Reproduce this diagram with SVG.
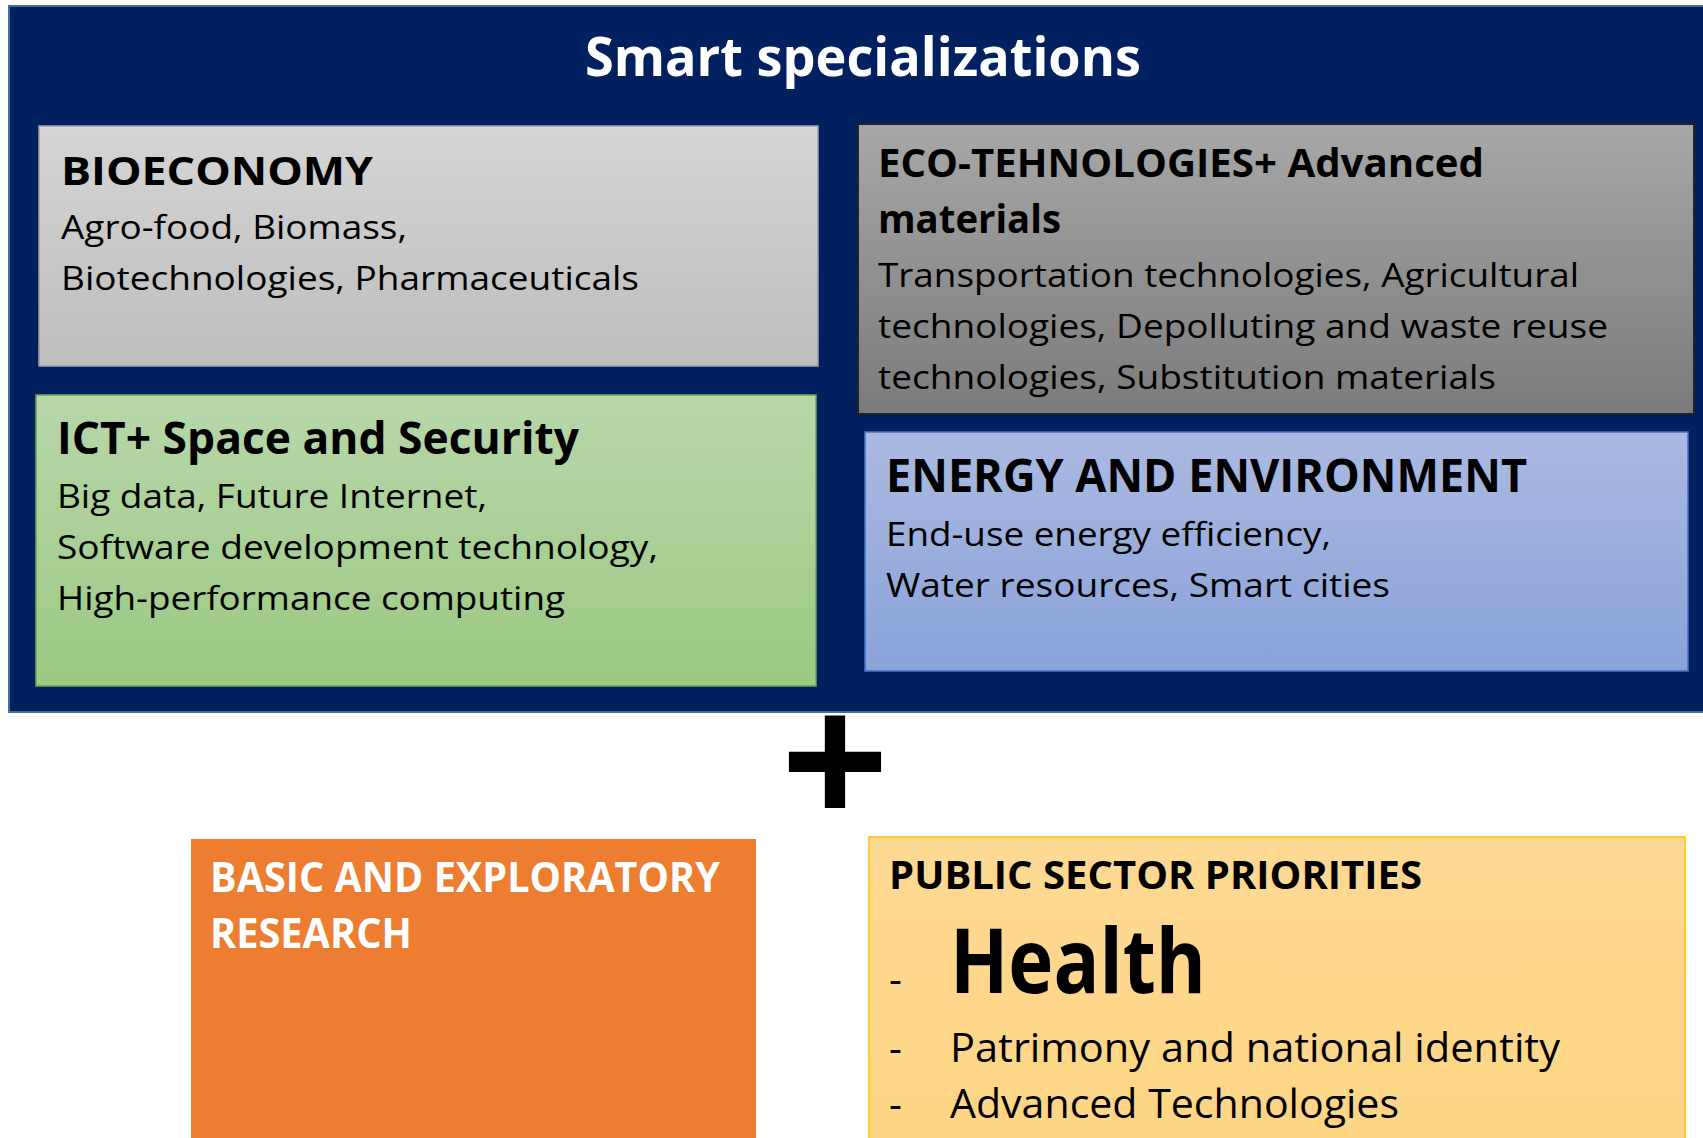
<svg xmlns="http://www.w3.org/2000/svg" width="1703" height="1138" viewBox="0 0 1703 1138">
  <defs>
    <linearGradient id="gBio" x1="0" y1="0" x2="0" y2="1"><stop offset="0" stop-color="#d5d5d5"/><stop offset="1" stop-color="#bdbdbd"/></linearGradient>
    <linearGradient id="gEco" x1="0" y1="0" x2="0" y2="1"><stop offset="0" stop-color="#a7a7a7"/><stop offset="1" stop-color="#7b7b7b"/></linearGradient>
    <linearGradient id="gIct" x1="0" y1="0" x2="0" y2="1"><stop offset="0" stop-color="#b7d7a9"/><stop offset="1" stop-color="#9cc983"/></linearGradient>
    <linearGradient id="gEn" x1="0" y1="0" x2="0" y2="1"><stop offset="0" stop-color="#abbae1"/><stop offset="1" stop-color="#89a2d8"/></linearGradient>
    <linearGradient id="gPub" x1="0" y1="0" x2="0" y2="1"><stop offset="0" stop-color="#fed994"/><stop offset="1" stop-color="#fed584"/></linearGradient>
  </defs>
  <style>
    text { font-family: "Open Sans", "Noto Sans", "DejaVu Sans", sans-serif; fill: #000; }
    .b { font-weight: bold; }
    .w { fill: #ffffff; }
    .h39 { font-size: 39px; }
    .h45 { font-size: 45px; }
    .h46 { font-size: 46px; }
    .body { font-size: 33px; }
    .pub { font-size: 40px; }
  </style>
  <rect width="1703" height="1138" fill="#ffffff"/>

  <g id="smart-specializations">
    <rect x="9" y="6" width="1700" height="706" fill="#002060" stroke="#41719c" stroke-width="2"/>
    <text x="585" y="76" class="b w" font-size="53" textLength="556" lengthAdjust="spacingAndGlyphs">Smart specializations</text>
  </g>

  <g id="bioeconomy">
    <rect x="39" y="126" width="779" height="240" fill="url(#gBio)" stroke="#a0a0a0" stroke-width="1.5"/>
    <text x="61" y="185" class="b h39" textLength="312" lengthAdjust="spacingAndGlyphs">BIOECONOMY</text>
    <text x="61" y="239" class="body" textLength="346" lengthAdjust="spacingAndGlyphs">Agro-food, Biomass,</text>
    <text x="61" y="290" class="body" textLength="578" lengthAdjust="spacingAndGlyphs">Biotechnologies, Pharmaceuticals</text>
  </g>

  <g id="eco-technologies">
    <rect x="858" y="124" width="836" height="290" fill="url(#gEco)" stroke="#222222" stroke-width="2"/>
    <text x="878" y="177" class="b h39" textLength="606" lengthAdjust="spacingAndGlyphs">ECO-TEHNOLOGIES+ Advanced</text>
    <text x="878" y="233" class="b h39" textLength="183" lengthAdjust="spacingAndGlyphs">materials</text>
    <text x="878" y="287" class="body" textLength="701" lengthAdjust="spacingAndGlyphs">Transportation technologies, Agricultural</text>
    <text x="878" y="338" class="body" textLength="730" lengthAdjust="spacingAndGlyphs">technologies, Depolluting and waste reuse</text>
    <text x="878" y="389" class="body" textLength="618" lengthAdjust="spacingAndGlyphs">technologies, Substitution materials</text>
  </g>

  <g id="ict-space-security">
    <rect x="36" y="395" width="780" height="291" fill="url(#gIct)" stroke="#6aa84f" stroke-width="1.5"/>
    <text x="57" y="454" class="b h45" textLength="522" lengthAdjust="spacingAndGlyphs">ICT+ Space and Security</text>
    <text x="57" y="508" class="body" textLength="430" lengthAdjust="spacingAndGlyphs">Big data, Future Internet,</text>
    <text x="57" y="559" class="body" textLength="601" lengthAdjust="spacingAndGlyphs">Software development technology,</text>
    <text x="57" y="610" class="body" textLength="508" lengthAdjust="spacingAndGlyphs">High-performance computing</text>
  </g>

  <g id="energy-environment">
    <rect x="865" y="432" width="823" height="239" fill="url(#gEn)" stroke="#4472c4" stroke-width="1.5"/>
    <text x="886" y="492" class="b h46" textLength="641" lengthAdjust="spacingAndGlyphs">ENERGY AND ENVIRONMENT</text>
    <text x="886" y="546" class="body" textLength="445" lengthAdjust="spacingAndGlyphs">End-use energy efficiency,</text>
    <text x="886" y="597" class="body" textLength="504" lengthAdjust="spacingAndGlyphs">Water resources, Smart cities</text>
  </g>

  <g id="plus">
    <text x="835" y="829" font-family="DejaVu Sans, sans-serif" font-weight="bold" font-size="190" text-anchor="middle">+</text>
  </g>

  <g id="basic-research">
    <rect x="191" y="839" width="565" height="310" fill="#ed7d31"/>
    <text x="210" y="892" class="b w" font-size="40.5" textLength="510" lengthAdjust="spacingAndGlyphs">BASIC AND EXPLORATORY</text>
    <text x="210" y="948" class="b w" font-size="40.5" textLength="202" lengthAdjust="spacingAndGlyphs">RESEARCH</text>
  </g>

  <g id="public-sector-priorities">
    <rect x="869" y="837" width="816" height="310" fill="url(#gPub)" stroke="#ffc000" stroke-width="1.5"/>
    <text x="889" y="889" class="b" font-size="38.5" textLength="533" lengthAdjust="spacingAndGlyphs">PUBLIC SECTOR PRIORITIES</text>
    <text y="993"><tspan x="889" class="pub">-</tspan><tspan x="950" class="b" font-size="90" textLength="256" lengthAdjust="spacingAndGlyphs">Health</tspan></text>
    <text y="1062"><tspan x="889" class="pub">-</tspan><tspan x="950" class="pub" textLength="610" lengthAdjust="spacingAndGlyphs">Patrimony and national identity</tspan></text>
    <text y="1118"><tspan x="889" class="pub">-</tspan><tspan x="950" class="pub" textLength="449" lengthAdjust="spacingAndGlyphs">Advanced Technologies</tspan></text>
  </g>
</svg>
